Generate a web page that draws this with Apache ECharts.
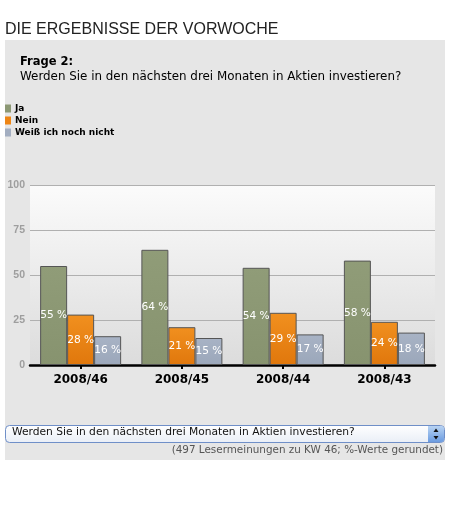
<!DOCTYPE html>
<html><head><meta charset="utf-8">
<script src="https://cdn.jsdelivr.net/npm/echarts@6/dist/echarts.min.js"></script>
<style>html,body{margin:0;padding:0;background:#fff}#c{width:451px;height:532px}</style>
</head><body><div id="c"></div>
<script>
const categories = ['2008/46', '2008/45', '2008/44', '2008/43'];
const seriesNames = ['Ja', 'Nein', 'Weiß ich noch nicht'];
const jaValues = [55, 64, 54, 58];
const neinValues = [28, 21, 29, 24];
const weissValues = [16, 15, 17, 18];
const yTicks = [0, 25, 50, 75, 100];

const pageTitle = 'DIE ERGEBNISSE DER VORWOCHE';
const questionLabel = 'Frage 2:';
const questionText = 'Werden Sie in den nächsten drei Monaten in Aktien investieren?';
const footnote = '(497 Lesermeinungen zu KW 46; %-Werte gerundet)';

const chart = echarts.init(document.getElementById('c'), null, {renderer: 'canvas'});
const V = 'DejaVu Sans';
function grad(a, b) {
  return new echarts.graphic.LinearGradient(0, 0, 0, 1, [{offset: 0, color: a}, {offset: 1, color: b}]);
}
const colors = [grad('#909c78', '#87936f'), grad('#f1901f', '#e0770c'), grad('#a8b3c5', '#9ba7ba')];
const legendColors = ['#8c9874', '#ee8514', '#a3aec1'];
const values = [jaValues, neinValues, weissValues];

chart.setOption({
  animation: false,
  graphic: [
    {type: 'rect', z: -10, shape: {x: 5, y: 40, width: 440, height: 420}, style: {fill: '#e6e6e6'}},
    {type: 'text', left: 5, top: 22, style: {text: pageTitle, font: '16px "Liberation Sans"', fill: '#222'}},
    {type: 'text', left: 20, top: 56, style: {text: questionLabel, font: 'bold 11.5px "DejaVu Sans"', fill: '#000'}},
    {type: 'text', left: 20, top: 71, style: {text: questionText, font: '11.9px "DejaVu Sans"', fill: '#000'}},
    {type: 'rect', shape: {x: 5.5, y: 425.5, width: 439, height: 17, r: 4},
      style: {fill: grad('#ffffff', '#e9eef6'), stroke: '#6f8fc8', lineWidth: 1}},
    {type: 'rect', shape: {x: 428, y: 426, width: 16, height: 16, r: [0, 3, 3, 0]},
      style: {fill: grad('#b8d3f3', '#6b9be0')}},
    {type: 'polygon', shape: {points: [[433.5, 432], [438.5, 432], [436, 428.5]]}, style: {fill: '#111'}},
    {type: 'polygon', shape: {points: [[433.5, 436], [438.5, 436], [436, 439.5]]}, style: {fill: '#111'}},
    {type: 'text', left: 12, top: 427, style: {text: questionText, font: '10.7px "DejaVu Sans"', fill: '#111'}},
    {type: 'text', right: 8, top: 445, style: {text: footnote, font: '10.4px "DejaVu Sans"', fill: '#555', align: 'right'}}
  ],
  legend: {
    data: seriesNames.map((n, i) => ({name: n, itemStyle: {color: legendColors[i], borderWidth: 0}})),
    orient: 'vertical', left: 5, top: 104, padding: 0,
    icon: 'rect', itemWidth: 6, itemHeight: 8, itemGap: 3,
    selectedMode: false,
    textStyle: {fontFamily: V, fontSize: 9, fontWeight: 'bold', color: '#000', padding: [0, 0, 0, -1]}
  },
  grid: {
    left: 30, right: 16, top: 185, bottom: 167, show: true, borderWidth: 0,
    backgroundColor: grad('#fbfbfb', '#dcdcdc')
  },
  xAxis: {
    type: 'category', data: categories,
    axisLine: {lineStyle: {color: '#000', width: 2.5}},
    axisTick: {show: true, alignWithLabel: true, length: 4, lineStyle: {color: '#000', width: 2}},
    axisLabel: {fontFamily: V, fontSize: 12, fontWeight: 'bold', color: '#000', margin: 9}
  },
  yAxis: {
    type: 'value', min: yTicks[0], max: yTicks[yTicks.length - 1], interval: 25,
    axisLine: {show: false}, axisTick: {show: false},
    splitLine: {lineStyle: {color: '#b0b0b0', width: 1}},
    axisLabel: {fontFamily: 'Liberation Sans', fontSize: 10.5, fontWeight: 'bold', color: '#9e9e9e', margin: 5}
  },
  series: seriesNames.map((n, i) => ({
    name: n, type: 'bar', data: values[i],
    barGap: '0%', barCategoryGap: '20%',
    itemStyle: {color: colors[i], borderColor: '#555', borderWidth: 1},
    label: {show: true, position: 'inside', formatter: '{c} %', color: '#fff',
      fontFamily: V, fontSize: 10.6, overflow: 'none'}
  }))
});
</script></body></html>
